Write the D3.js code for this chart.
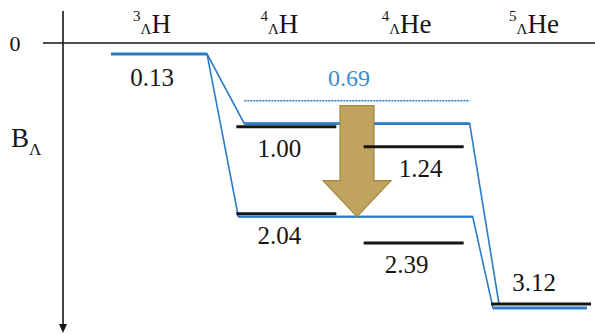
<!DOCTYPE html>
<html>
<head>
<meta charset="utf-8">
<script src="https://cdn.jsdelivr.net/npm/d3@7"></script>
<style>
  html, body { margin: 0; padding: 0; background: #fff; }
  svg { display: block; }
  svg text { font-family: "Liberation Serif", "DejaVu Serif", "Times New Roman", serif; }
</style>
</head>
<body>
<svg id="chart" width="595" height="334"></svg>
<script>
// Hypernuclei and their Λ binding-energy levels (MeV)
const species = ["3ΛH", "4ΛH", "4ΛHe", "5ΛHe"];
const massNumbers = ["3", "4", "4", "5"];
const elements = ["H", "H", "He", "He"];

const levelSpecies = ["3ΛH", "4ΛH", "4ΛH", "4ΛHe", "4ΛHe", "5ΛHe"];
const levelValues = [0.13, 1.00, 2.04, 1.24, 2.39, 3.12];

// Binding-energy threshold marked by the dotted line
const thresholdValue = 0.69;

// Binding-energy tick shown on the axis
const yTickValues = [0];

// Averaged binding paths through the series (species, end of level, value)
const upperPath = [["3ΛH", "left", 0.13], ["3ΛH", "right", 0.13], ["4ΛH", "left", 1.00],
                   ["4ΛHe", "right", 1.00], ["5ΛHe", "left", 3.12]];
const lowerPath = [["3ΛH", "right", 0.13], ["4ΛH", "left", 2.04], ["4ΛHe", "right", 2.04],
                   ["5ΛHe", "left", 3.12], ["5ΛHe", "right", 3.12]];

const svg = d3.select("#chart");
const W = 595, H = 334;
const blue = "#2b7bc6";
const ink = "#151515";

const x = d3.scalePoint().domain(species).range([159, 541]);
const y = d3.scaleLinear().domain([0, 3.12]).range([43, 304]);

const halfWidth = s => (s === "3ΛH" ? 48 : 50);
const end = (s, side) => x(s) + (side === "left" ? -halfWidth(s) : halfWidth(s));

// Axes: downward binding-energy arrow and the zero line
const axisX = 63;
svg.append("line").attr("x1", axisX).attr("x2", axisX).attr("y1", 11).attr("y2", 326)
  .attr("stroke", ink).attr("stroke-width", 1.6);
svg.append("path")
  .attr("d", `M${axisX - 4},${324} L${axisX + 4},${324} L${axisX},${333} Z`)
  .attr("fill", ink);

svg.selectAll("line.zero").data(yTickValues).join("line")
  .attr("class", "zero")
  .attr("x1", 43).attr("x2", W)
  .attr("y1", d => y(d)).attr("y2", d => y(d))
  .attr("stroke", ink).attr("stroke-width", 1.6);

svg.selectAll("text.tick").data(yTickValues).join("text")
  .attr("class", "tick")
  .attr("x", 15).attr("y", d => y(d) + 8)
  .attr("text-anchor", "middle")
  .attr("font-size", 22).attr("fill", ink)
  .text(d => d);

// Axis title B_Λ
const bt = svg.append("text").attr("x", 11).attr("y", 147).attr("fill", ink);
bt.append("tspan").attr("font-size", 27).text("B");
bt.append("tspan").attr("font-size", 17).attr("dy", 8).text("Λ");

// Column headers: superscript mass number, subscript Λ, element
species.forEach((s, i) => {
  const t = svg.append("text")
    .attr("x", x(s) - 7).attr("y", 33)
    .attr("text-anchor", "middle").attr("fill", ink);
  t.append("tspan").attr("font-size", 15).attr("dy", -12).text(massNumbers[i]);
  t.append("tspan").attr("font-size", 15).attr("dy", 13).text("Λ");
  t.append("tspan").attr("font-size", 27).attr("dy", -1).text(elements[i]);
});

// Blue binding paths
const pathLine = d3.line().x(d => d[0]).y(d => d[1]);
function pathPoints(path, dyMid, dyEnd, insetL, insetR) {
  return path.map(([s, side, v]) => {
    let dy = dyMid, dx = 0;
    if (s === "3ΛH") dy = 0;
    else if (s === "5ΛHe") { dy = dyEnd; dx = side === "left" ? insetL : -4; }
    else dx = side === "left" ? insetL : insetR;
    return [end(s, side) + dx, y(v) + dy];
  });
}
const upperPts = pathPoints(upperPath, -3, 0, 8, 6);
const lowerPts = pathPoints(lowerPath, 3, 4, 2, 9);
[upperPts, lowerPts].forEach(pts => {
  svg.append("path").attr("d", pathLine(pts))
    .attr("fill", "none").attr("stroke", blue).attr("stroke-width", 1.6)
    .attr("stroke-linejoin", "miter");
});
// Thicker horizontal runs of the paths
svg.append("path").attr("d", pathLine(upperPts.slice(2, 4)))
  .attr("stroke", blue).attr("stroke-width", 2.6);
svg.append("path").attr("d", pathLine(lowerPts.slice(1, 3)))
  .attr("stroke", blue).attr("stroke-width", 2);
svg.append("path").attr("d", pathLine(lowerPts.slice(3, 5)))
  .attr("stroke", blue).attr("stroke-width", 3);

// Threshold dotted line and label
const x4H = x("4ΛH"), x4He = x("4ΛHe");
svg.append("line")
  .attr("x1", end("4ΛH", "left") + 8).attr("x2", end("4ΛHe", "right") + 6)
  .attr("y1", y(thresholdValue)).attr("y2", y(thresholdValue))
  .attr("stroke", blue).attr("stroke-width", 1.6).attr("stroke-dasharray", "2,1");
svg.append("text")
  .attr("x", (x4H + x4He) / 2 - 1).attr("y", y(thresholdValue) - 15)
  .attr("text-anchor", "middle").attr("font-size", 24).attr("fill", "#3a8dd0")
  .text(thresholdValue.toFixed(2));

// Gold arrow from the threshold down to the lower path
const ax = (x4H + x4He) / 2 + 7;
const aTop = y(thresholdValue) + 5;
const aTip = y(2.04) + 3;
const headH = 36, shaftW = 17, headW = 34;
svg.append("path")
  .attr("d", `M${ax - shaftW},${aTop} L${ax + shaftW},${aTop} L${ax + shaftW},${aTip - headH}
              L${ax + headW},${aTip - headH} L${ax},${aTip} L${ax - headW},${aTip - headH}
              L${ax - shaftW},${aTip - headH} Z`)
  .attr("fill", "#bfa35f").attr("stroke", "#a3893f").attr("stroke-width", 1.2);

// Energy levels
const levels = levelValues.map((v, i) => ({ s: levelSpecies[i], v }));
svg.selectAll("line.level").data(levels).join("line")
  .attr("class", "level")
  .attr("x1", d => end(d.s, "left")).attr("x2", d => end(d.s, "right"))
  .attr("y1", d => y(d.v)).attr("y2", d => y(d.v))
  .attr("stroke", d => (d.s === "3ΛH" ? blue : ink))
  .attr("stroke-width", 3);

// Level value labels (below each level, above for the deepest one)
svg.selectAll("text.level").data(levels).join("text")
  .attr("class", "level")
  .attr("x", d => x(d.s) - 7 + (d.v === 1.24 ? 14 : 0))
  .attr("y", d => (d.s === "5ΛHe" ? y(d.v) - 13 : y(d.v) + (d.s === "3ΛH" ? 32 : 30)))
  .attr("text-anchor", "middle").attr("font-size", 25).attr("fill", ink)
  .text(d => d.v.toFixed(2));
</script>
</body>
</html>
